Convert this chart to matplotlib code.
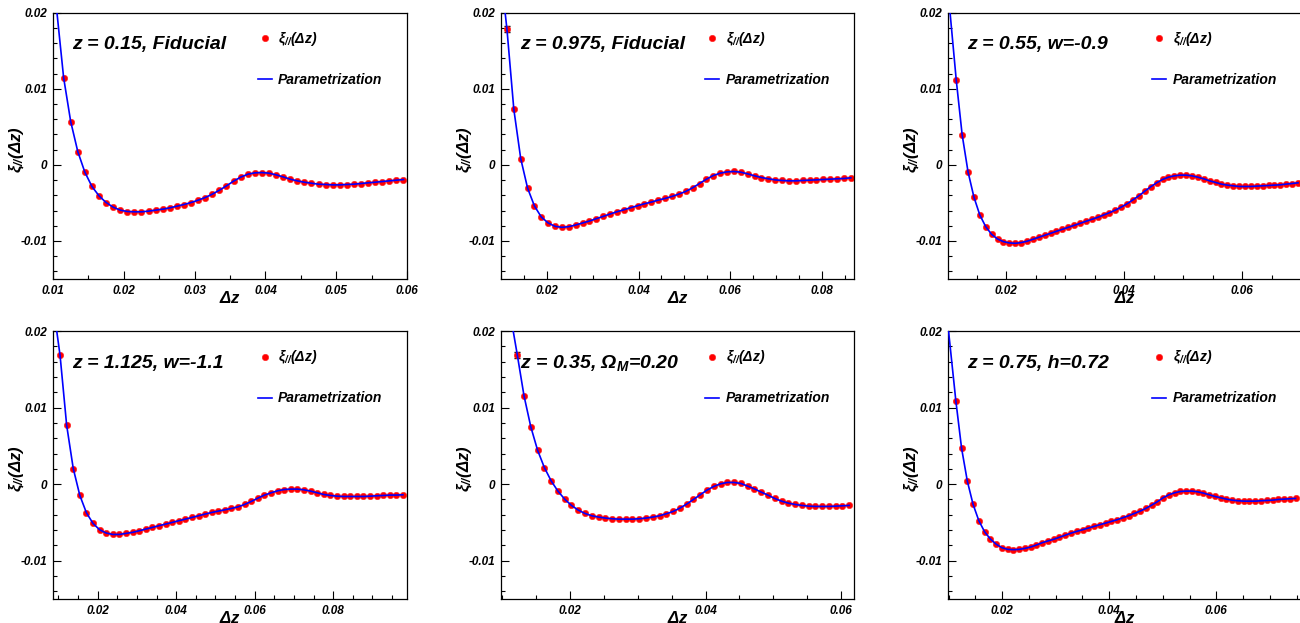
import numpy as np
import matplotlib
matplotlib.use('Agg')
import matplotlib.pyplot as plt
from matplotlib.ticker import MultipleLocator, AutoMinorLocator, FuncFormatter

plt.rcParams['font.family'] = ['Liberation Sans', 'DejaVu Sans']
plt.rcParams['font.weight'] = 'bold'
plt.rcParams['font.style'] = 'italic'
plt.rcParams['mathtext.fontset'] = 'custom'
plt.rcParams['mathtext.rm'] = 'Liberation Sans'
plt.rcParams['mathtext.it'] = 'Liberation Sans:italic:bold'
plt.rcParams['mathtext.bf'] = 'Liberation Sans:bold:italic'

# panel titles
titles = ['z = 0.15, Fiducial', 'z = 0.975, Fiducial', 'z = 0.55, w=-0.9',
          'z = 1.125, w=-1.1', r'z = 0.35, $\mathrm{\Omega}_{M}$=0.20', 'z = 0.75, h=0.72']

# bin grid (first bin centre and bin width in delta z)
x_start = [0.0115, 0.0113, 0.0115, 0.0104, 0.0122, 0.01136]
x_step = [0.001, 0.0015, 0.001, 0.00168, 0.001, 0.001075]
# where the parametrization leaves the top of the frame
curve_top_x = [0.01056, 0.0109, 0.01045, 0.00955, 0.0116, 0.0100]
curve_top_y = 0.02
first_err = [0, 0.0004, 0, 0, 0.0004, 0]

x_lims = [(0.01, 0.06), (0.0100, 0.087), (0.0101, 0.0700),
          (0.0086, 0.0988), (0.0098, 0.0619), (0.0099, 0.0758)]
x_major = [0.01, 0.02, 0.02, 0.02, 0.02, 0.02]
x_minor = [2, 4, 4, 4, 4, 4]
y_lim = (-0.015, 0.02)

xi_1 = [0.01147, 0.00569, 0.00175, -0.00096, -0.00284, -0.00407, -0.00495, -0.00556, -0.00595, -0.00613,
        -0.00617, -0.00617, -0.00608, -0.00595, -0.00582, -0.00565, -0.00543, -0.00521, -0.00495, -0.00464,
        -0.00429, -0.00385, -0.00333, -0.00276, -0.00214, -0.00162, -0.00123, -0.00105, -0.00101, -0.00109,
        -0.00131, -0.00158, -0.00188, -0.0021, -0.00228, -0.00241, -0.00254, -0.00258, -0.00263, -0.00263,
        -0.00258, -0.00254, -0.00245, -0.00236, -0.00228, -0.00219, -0.0021, -0.00201, -0.00193]

xi_2 = [0.01782, 0.00729, 0.00083, -0.00306, -0.00541, -0.00686, -0.00764, -0.00808, -0.00821, -0.00812,
        -0.0079, -0.00764, -0.00738, -0.00707, -0.00677, -0.00646, -0.00616, -0.0059, -0.00563, -0.00537,
        -0.00511, -0.00489, -0.00463, -0.00441, -0.00415, -0.00384, -0.00349, -0.00301, -0.00245, -0.00188,
        -0.0014, -0.00109, -0.00092, -0.00087, -0.00096, -0.00118, -0.00144, -0.00166, -0.00183, -0.00197,
        -0.00205, -0.0021, -0.0021, -0.00205, -0.00201, -0.00197, -0.00192, -0.00188, -0.00183, -0.00179,
        -0.0017]

xi_3 = [0.01114, 0.00397, -0.00092, -0.00424, -0.00659, -0.00812, -0.00913, -0.00974, -0.01009, -0.01026,
        -0.01031, -0.01022, -0.01004, -0.00978, -0.00952, -0.00926, -0.009, -0.00873, -0.00847, -0.00821,
        -0.00795, -0.00769, -0.00742, -0.00716, -0.0069, -0.00659, -0.00629, -0.00594, -0.00555, -0.00511,
        -0.00459, -0.00406, -0.00345, -0.00288, -0.00236, -0.00192, -0.00162, -0.00144, -0.00135, -0.00135,
        -0.00144, -0.00162, -0.00183, -0.0021, -0.00231, -0.00253, -0.00266, -0.00275, -0.00284, -0.00284,
        -0.00284, -0.00279, -0.00275, -0.00271, -0.00266, -0.00262, -0.00253, -0.00245, -0.00236]

xi_4 = [0.01682, 0.00769, 0.00204, -0.00148, -0.00374, -0.00513, -0.00596, -0.00639, -0.00657, -0.00657,
        -0.00643, -0.0063, -0.00609, -0.00587, -0.00565, -0.00543, -0.00522, -0.005, -0.00478, -0.00457,
        -0.00435, -0.00413, -0.00391, -0.0037, -0.00352, -0.00335, -0.00317, -0.00296, -0.00265, -0.00226,
        -0.00183, -0.00143, -0.00113, -0.00087, -0.0007, -0.00065, -0.00065, -0.00074, -0.00091, -0.00113,
        -0.00135, -0.00148, -0.00157, -0.00161, -0.00161, -0.00161, -0.00161, -0.00157, -0.00152, -0.00148,
        -0.00143, -0.00143, -0.00139]

xi_5 = [0.01691, 0.01152, 0.00748, 0.00443, 0.00217, 0.00043, -0.00091, -0.00196, -0.00278, -0.00339,
        -0.00383, -0.00413, -0.0043, -0.00443, -0.00452, -0.00457, -0.00457, -0.00457, -0.00452, -0.00443,
        -0.0043, -0.00413, -0.00387, -0.00357, -0.00313, -0.00261, -0.002, -0.00139, -0.00078, -0.0003,
        0.00004, 0.00022, 0.00022, 0.00009, -0.00026, -0.00061, -0.00104, -0.00143, -0.00187, -0.00222,
        -0.00248, -0.00265, -0.00278, -0.00287, -0.00291, -0.00291, -0.00291, -0.00287, -0.00283, -0.00278]

xi_6 = [0.01091, 0.00469, 0.00039, -0.00265, -0.00478, -0.00622, -0.00717, -0.00784, -0.0083, -0.00852,
        -0.00856, -0.00852, -0.00839, -0.00821, -0.00795, -0.00765, -0.00742, -0.0072, -0.00694, -0.00667,
        -0.0064, -0.00617, -0.00596, -0.00574, -0.00552, -0.0053, -0.00509, -0.00487, -0.00465, -0.00439,
        -0.00413, -0.00383, -0.00352, -0.00317, -0.00274, -0.0023, -0.00178, -0.00139, -0.00113, -0.00096,
        -0.00091, -0.00091, -0.001, -0.00117, -0.00139, -0.00161, -0.00178, -0.00196, -0.00209, -0.00217,
        -0.00222, -0.00222, -0.00222, -0.00217, -0.00213, -0.00209, -0.002, -0.00196, -0.00191, -0.00187]

all_xi = [xi_1, xi_2, xi_3, xi_4, xi_5, xi_6]

ylab = r'$\mathrm{\xi}_{//}\mathbf{(}\mathrm{\Delta}z\mathbf{)}$'
leglab = r'$\mathrm{\xi}_{//}\mathbf{(}\mathrm{\Delta}z\mathbf{)}$'

fig = plt.figure(figsize=(13, 6.23), dpi=100)
W, H = 1300.0, 623.0
lefts = [53, 501, 948]
widths = [354, 353, 353]
tops = [12.7, 331]
heights = [266.3, 268]

def fmt(v, pos):
    if abs(v) < 1e-12:
        return '0'
    return '%g' % round(v, 4)

for k in range(6):
    r, c = k // 3, k % 3
    ax = fig.add_axes([lefts[c] / W, 1 - (tops[r] + heights[r]) / H, widths[c] / W, heights[r] / H])
    y = np.array(all_xi[k])
    x = x_start[k] + x_step[k] * np.arange(len(y))

    pts, = ax.plot(x, y, 'o', color='#ff0000', ms=4.6, mec='#ff2020', mew=0.4, zorder=2)
    if first_err[k] > 0:
        ax.errorbar(x[:1], y[:1], yerr=first_err[k], fmt='none', ecolor='black',
                    elinewidth=1, capsize=2, zorder=1)
    cx = np.concatenate([[curve_top_x[k]], x])
    cy = np.concatenate([[curve_top_y], y])
    ln, = ax.plot(cx, cy, '-', color='#0000ff', lw=1.2, zorder=3)

    ax.set_xlim(*x_lims[k])
    ax.set_ylim(*y_lim)
    ax.xaxis.set_major_locator(MultipleLocator(x_major[k]))
    ax.xaxis.set_minor_locator(AutoMinorLocator(x_minor[k]))
    ax.yaxis.set_major_locator(MultipleLocator(0.01))
    ax.yaxis.set_minor_locator(AutoMinorLocator(5))
    ax.xaxis.set_major_formatter(FuncFormatter(fmt))
    ax.yaxis.set_major_formatter(FuncFormatter(fmt))
    ax.tick_params(which='both', direction='in', top=False, right=False, labelsize=8.5, pad=4)
    ax.tick_params(which='major', length=6, width=0.8)
    ax.tick_params(which='minor', length=3, width=0.8)
    for s in ax.spines.values():
        s.set_linewidth(0.9)

    ax.text(0.053, 0.88, titles[k], transform=ax.transAxes, fontsize=14,
            ha='left', va='center')
    ax.text(-0.102, 0.485, ylab, transform=ax.transAxes, fontsize=12,
            rotation=90, ha='center', va='center')
    ax.text(0.5, -19.0 / heights[r], r'$\mathrm{\Delta}z$', transform=ax.transAxes,
            fontsize=12, ha='center', va='center')
    ax.legend([pts, ln], [leglab, 'Parametrization'], loc='upper left',
              bbox_to_anchor=(0.579, 0.935), frameon=False, borderpad=0,
              borderaxespad=0, handlelength=1.0, handletextpad=0.45,
              labelspacing=1.8, fontsize=10, numpoints=1)

fig.savefig('out.png', dpi=100)
